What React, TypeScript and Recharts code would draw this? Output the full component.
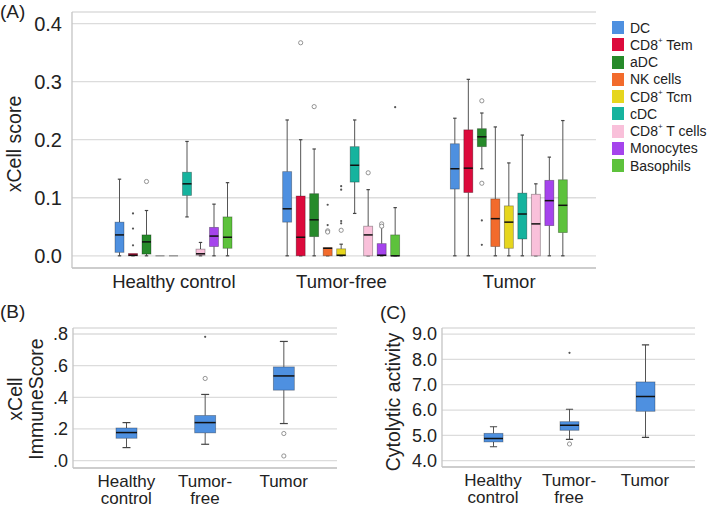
import { ComposedChart, Bar, XAxis, YAxis, CartesianGrid, Legend } from 'recharts'

const FONT = '"Liberation Sans", Arial, Helvetica, sans-serif'
const TEXT = '#222'

const cellTypes = ['DC', 'CD8+ Tem', 'aDC', 'NK cells', 'CD8+ Tcm', 'cDC', 'CD8+ T cells', 'Monocytes', 'Basophils']
const cellColors = ['#4e90e0', '#dc0a3c', '#268a2a', '#f26b2c', '#e6d61e', '#16b39e', '#f9c0da', '#a544ec', '#5dc23c']
const groupsA = ['Healthy control', 'Tumor-free', 'Tumor']

// each box: [min, q1, median, q3, max]
const healthyBoxes = [
  [0, 0.006, 0.036, 0.058, 0.132],
  [0, 0, 0.001, 0.004, 0.004],
  [0, 0.003, 0.024, 0.036, 0.078],
  [0, 0, 0, 0, 0],
  [0, 0, 0, 0, 0],
  [0.067, 0.104, 0.124, 0.144, 0.197],
  [0, 0.001, 0.0035, 0.0115, 0.023],
  [0, 0.016, 0.034, 0.049, 0.089],
  [0, 0.013, 0.032, 0.067, 0.126],
]
const tumorFreeBoxes = [
  [0, 0.058, 0.081, 0.145, 0.234],
  [0, 0, 0.032, 0.103, 0.2],
  [0, 0.033, 0.062, 0.107, 0.184],
  [0, 0, 0.013, 0.014, 0.014],
  [0, 0, 0.001, 0.012, 0.02],
  [0.073, 0.127, 0.156, 0.188, 0.234],
  [0, 0, 0.036, 0.051, 0.114],
  [0, 0, 0.001, 0.021, 0.049],
  [0, 0, 0, 0.036, 0.083],
]
const tumorBoxes = [
  [0, 0.115, 0.15, 0.193, 0.237],
  [0, 0.109, 0.151, 0.217, 0.304],
  [0.15, 0.188, 0.205, 0.219, 0.246],
  [0, 0.016, 0.064, 0.098, 0.222],
  [0, 0.013, 0.058, 0.086, 0.16],
  [0, 0.029, 0.072, 0.108, 0.208],
  [0, 0, 0.055, 0.106, 0.124],
  [0, 0.052, 0.095, 0.13, 0.17],
  [0, 0.04, 0.087, 0.131, 0.233],
]

// circles = outliers, dots = extreme values
const healthyOutliers = [[], [], [0.128], [], [], [], [], [], []]
const healthyExtremes = [[], [0.073, 0.047, 0.018], [], [], [], [], [], [], []]
const tumorFreeOutliers = [[], [0.367], [0.257], [0.043, 0.041], [0.044], [], [0.143], [0.055, 0.051], []]
const tumorFreeExtremes = [[], [], [], [0.088, 0.053], [0.12, 0.114, 0.06, 0.056], [], [], [], [0.256]]
const tumorOutliers = [[], [], [0.267, 0.125], [], [], [], [], [], []]
const tumorExtremes = [[], [], [0.061, 0.019], [], [], [], [], [], []]

const ticksA = [0, 0.1, 0.2, 0.3, 0.4]
const domainA: [number, number] = [-0.021, 0.42]

// panel B / C
const groupsBC = ['Healthy\ncontrol', 'Tumor-\nfree', 'Tumor']
const immuneBoxes = [
  [0.082, 0.141, 0.177, 0.206, 0.24],
  [0.103, 0.175, 0.24, 0.285, 0.418],
  [0.234, 0.445, 0.535, 0.592, 0.753],
]
const immuneOutliers = [[], [0.519], [0.171, 0.029]]
const immuneExtremes = [[], [0.782], []]
const ticksB = [0, 0.2, 0.4, 0.6, 0.8]
const domainB: [number, number] = [-0.047, 0.838]

const cytolyticBoxes = [
  [4.55, 4.74, 4.88, 5.08, 5.34],
  [4.84, 5.2, 5.4, 5.54, 6.03],
  [4.92, 5.95, 6.53, 7.11, 8.57],
]
const cytolyticOutliers = [[], [4.66], []]
const cytolyticExtremes = [[], [8.26], []]
const ticksC = [4, 5, 6, 7, 8, 9]
const domainC: [number, number] = [3.75, 9.24]

const BOX_BLUE = '#4e90e0'

const dataA = groupsA.map((group, i) => ({
  group,
  boxes: [healthyBoxes, tumorFreeBoxes, tumorBoxes][i],
  outliers: [healthyOutliers, tumorFreeOutliers, tumorOutliers][i],
  extremes: [healthyExtremes, tumorFreeExtremes, tumorExtremes][i],
}))

const dataB = groupsBC.map((group, i) => ({
  group,
  boxes: [immuneBoxes[i]],
  outliers: [immuneOutliers[i]],
  extremes: [immuneExtremes[i]],
}))

const dataC = groupsBC.map((group, i) => ({
  group,
  boxes: [cytolyticBoxes[i]],
  outliers: [cytolyticOutliers[i]],
  extremes: [cytolyticExtremes[i]],
}))

// The bar spans the whole y domain, so its rect gives us the axis scale;
// the box, whiskers and points are drawn from the stats in payload.
function boxShape(idx: number, domain: [number, number], color: string) {
  const [lo, hi] = domain
  return (props: any) => {
    const { x, y, width, height, payload } = props
    const s: number[] = payload.boxes[idx]
    if (!s) return <g />
    const py = (v: number) => y + (height * (hi - v)) / (hi - lo)
    const cx = x + width / 2
    const cap = width * 0.38
    const flat = s[3] === s[1]
    const out: number[] = payload.outliers[idx] || []
    const ext: number[] = payload.extremes[idx] || []
    return (
      <g>
        {s[4] > s[3] && (
          <>
            <line x1={cx} x2={cx} y1={py(s[4])} y2={py(s[3])} stroke="#555" strokeWidth={1} />
            <line x1={cx - cap / 2} x2={cx + cap / 2} y1={py(s[4])} y2={py(s[4])} stroke="#444" strokeWidth={1.2} />
          </>
        )}
        {s[1] > s[0] && (
          <line x1={cx} x2={cx} y1={py(s[1])} y2={py(s[0])} stroke="#555" strokeWidth={1} />
        )}
        {(s[1] > s[0] || s[0] === 0) && !flat && (
          <line x1={cx - cap / 2} x2={cx + cap / 2} y1={py(s[0])} y2={py(s[0])} stroke="#444" strokeWidth={1.2} />
        )}
        {flat ? (
          <line x1={x} x2={x + width} y1={py(s[1])} y2={py(s[1])} stroke="#888" strokeWidth={1.2} />
        ) : (
          <rect
            x={x}
            y={py(s[3])}
            width={width}
            height={py(s[1]) - py(s[3])}
            fill={color}
            stroke="rgba(0,0,0,0.35)"
            strokeWidth={0.8}
          />
        )}
        {!flat && (
          <line x1={x} x2={x + width} y1={py(s[2])} y2={py(s[2])} stroke="#111" strokeWidth={1.5} />
        )}
        {out.map((v, k) => (
          <circle key={'o' + k} cx={cx} cy={py(v)} r={2.1} fill="#fff" stroke="#888" strokeWidth={0.9} />
        ))}
        {ext.map((v, k) => (
          <circle key={'e' + k} cx={cx} cy={py(v)} r={1.1} fill="#555" />
        ))}
      </g>
    )
  }
}

function SupText({ text }: { text: string }) {
  const parts = text.split('+')
  if (parts.length === 1) return <>{text}</>
  return (
    <>
      {parts[0]}
      <sup style={{ fontSize: 8, verticalAlign: 'top', lineHeight: '10px', position: 'relative', top: -1 }}>+</sup>
      {parts[1]}
    </>
  )
}

function CellLegend() {
  return (
    <div style={{ fontFamily: FONT, fontSize: 14, color: TEXT, textAlign: 'left' }}>
      {cellTypes.map((name, i) => (
        <div key={name} style={{ display: 'flex', alignItems: 'center', height: 17.25, whiteSpace: 'nowrap' }}>
          <span style={{ display: 'inline-block', width: 12, height: 13, background: cellColors[i], marginRight: 6 }} />
          <span>
            <SupText text={name} />
          </span>
        </div>
      ))}
    </div>
  )
}

function makeXTick(fontSize: number, firstDy: number, lineGap: number) {
  return (props: any) => {
    const { x, y, payload } = props
    const lines = String(payload.value).split('\n')
    return (
      <text x={x} y={y} textAnchor="middle" fontSize={fontSize} fill={TEXT} fontFamily={FONT}>
        {lines.map((l, i) => (
          <tspan key={i} x={x} dy={i === 0 ? firstDy : lineGap}>
            {l}
          </tspan>
        ))}
      </text>
    )
  }
}

function yLabel(lines: string[], cx: number, cy: number, fontSize: number, gap: number) {
  return () => (
    <g transform={`rotate(-90 ${cx} ${cy})`}>
      {lines.map((l, i) => (
        <text
          key={i}
          x={cx}
          y={cy + (i - (lines.length - 1) / 2) * gap}
          textAnchor="middle"
          dominantBaseline="central"
          fontSize={fontSize}
          fill={TEXT}
          fontFamily={FONT}
        >
          {l}
        </text>
      ))}
    </g>
  )
}

const panelLabel = (text: string, left: number, top: number) => (
  <div
    style={{
      position: 'absolute',
      left,
      top,
      fontFamily: FONT,
      fontSize: 19,
      lineHeight: '22px',
      color: TEXT,
    }}
  >
    {text}
  </div>
)

export default function App() {
  return (
    <div style={{ position: 'absolute', left: 0, top: 0, width: 709, height: 506, background: '#fff', overflow: 'hidden' }}>
      {panelLabel('(A)', 0, 1)}
      {panelLabel('(B)', 0, 301)}
      {panelLabel('(C)', 380, 302)}

      <div style={{ position: 'absolute', left: 0, top: 0 }}>
        <ComposedChart
          width={709}
          height={300}
          data={dataA}
          margin={{ top: 12, right: 113, bottom: 0, left: 12 }}
          barGap={4.5}
        >
          <CartesianGrid vertical={false} stroke="#dcdcdc" strokeWidth={1.3} />
          <XAxis
            dataKey="group"
            type="category"
            height={32}
            padding={{ left: 18, right: 3 }}
            axisLine={{ stroke: '#c4c4c4', strokeWidth: 1.3 }}
            tickLine={false}
            tickSize={0}
            tickMargin={0}
            tick={makeXTick(18.5, 20, 18)}
            interval={0}
          />
          <YAxis
            type="number"
            domain={domainA}
            allowDataOverflow
            ticks={ticksA}
            interval={0}
            width={60}
            axisLine={{ stroke: '#c4c4c4', strokeWidth: 1.3 }}
            tickLine={false}
            tickSize={6}
            tickMargin={4}
            tickFormatter={(v: number) => v.toFixed(1)}
            tick={{ fontSize: 20, fill: TEXT, fontFamily: FONT }}
            label={{ content: yLabel(['xCell score'], 14, 144, 19.5, 0) }}
          />
          {cellTypes.map((name, i) => (
            <Bar
              key={name}
              name={name}
              dataKey={() => domainA}
              fill={cellColors[i]}
              barSize={9}
              shape={boxShape(i, domainA, cellColors[i])}
              isAnimationActive={false}
            />
          ))}
          <Legend
            layout="horizontal"
            verticalAlign="middle"
            align="center"
            content={() => <CellLegend />}
            wrapperStyle={{ left: 612, top: 19, width: 100, height: 160 }}
          />
        </ComposedChart>
      </div>

      <div style={{ position: 'absolute', left: 0, top: 300 }}>
        <ComposedChart width={360} height={206} data={dataB} margin={{ top: 28, right: 23, bottom: 0, left: 13 }}>
          <CartesianGrid vertical={false} stroke="#dcdcdc" strokeWidth={1.3} />
          <XAxis
            dataKey="group"
            type="category"
            height={38}
            padding={{ left: 14, right: 14 }}
            axisLine={{ stroke: '#c4c4c4', strokeWidth: 1.3 }}
            tickLine={false}
            tickSize={0}
            tickMargin={0}
            tick={makeXTick(17, 19, 16.5)}
            interval={0}
          />
          <YAxis
            type="number"
            domain={domainB}
            allowDataOverflow
            ticks={ticksB}
            interval={0}
            width={60}
            axisLine={{ stroke: '#c4c4c4', strokeWidth: 1.3 }}
            tickLine={false}
            tickSize={2}
            tickMargin={3}
            tickFormatter={(v: number) => v.toFixed(1).replace(/^0/, '')}
            tick={{ fontSize: 18, fill: TEXT, fontFamily: FONT }}
            label={{ content: yLabel(['xCell', 'ImmuneScore'], 25.5, 99, 19.5, 21) }}
          />
          <Bar
            dataKey={() => domainB}
            fill={BOX_BLUE}
            barSize={21}
            shape={boxShape(0, domainB, BOX_BLUE)}
            isAnimationActive={false}
          />
        </ComposedChart>
      </div>

      <div style={{ position: 'absolute', left: 360, top: 300 }}>
        <ComposedChart width={349} height={206} data={dataC} margin={{ top: 28, right: 14, bottom: 0, left: 22 }}>
          <CartesianGrid vertical={false} stroke="#dcdcdc" strokeWidth={1.3} />
          <XAxis
            dataKey="group"
            type="category"
            height={39}
            padding={{ left: 13, right: 12 }}
            axisLine={{ stroke: '#c4c4c4', strokeWidth: 1.3 }}
            tickLine={false}
            tickSize={0}
            tickMargin={0}
            tick={makeXTick(17, 19, 16.5)}
            interval={0}
          />
          <YAxis
            type="number"
            domain={domainC}
            allowDataOverflow
            ticks={ticksC}
            interval={0}
            width={60}
            axisLine={{ stroke: '#c4c4c4', strokeWidth: 1.3 }}
            tickLine={false}
            tickSize={2}
            tickMargin={3}
            tickFormatter={(v: number) => v.toFixed(1)}
            tick={{ fontSize: 18, fill: TEXT, fontFamily: FONT }}
            label={{ content: yLabel(['Cytolytic activity'], 33, 102, 19.5, 0) }}
          />
          <Bar
            dataKey={() => domainC}
            fill={BOX_BLUE}
            barSize={19}
            shape={boxShape(0, domainC, BOX_BLUE)}
            isAnimationActive={false}
          />
        </ComposedChart>
      </div>
    </div>
  )
}
